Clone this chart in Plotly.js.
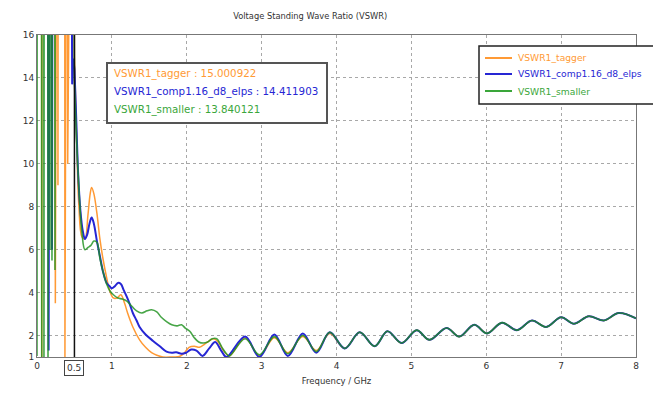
<!DOCTYPE html>
<html>
<head>
<meta charset="utf-8">
<script src="https://cdn.plot.ly/plotly-3.0.1.min.js"></script>
<style>html,body{margin:0;padding:0;background:#fff;}#chart{width:653px;height:401px;}</style>
</head>
<body>
<div id="chart"></div>
<script>
// ---- data ----
const freqTagger = [0,0.06,0.064,0.068,0.235,0.245,0.255,0.275,0.28,0.285,0.368,0.373,0.378,0.405,0.41,0.415,0.48,0.5,0.53,0.56,0.6,0.64,0.68,0.71,0.73,0.76,0.8,0.84,0.88,0.93,0.97,1.02,1.07,1.12,1.17,1.21,1.28,1.37,1.45,1.53,1.6,1.68,1.8,1.9,1.97,2.03,2.1,2.17,2.24,2.3,2.36,2.42,2.5,2.57,2.78,2.97,3.17,3.35,3.55,3.73,3.91,4.11,4.31,4.51,4.68,4.87,5.07,5.24,5.47,5.64,5.84,6.01,6.21,6.41,6.61,6.8,7.0,7.17,7.37,7.57,7.77,8.0];
const vswrTagger = [40,40,1.0,40,40,3.5,40,40,9,40,40,1.0,40,40,10,40,40,15.0,11,8.0,6.6,6.5,7.6,8.6,8.9,8.6,7.7,6.5,5.6,4.7,4.1,3.75,3.75,3.9,3.5,3.05,2.4,1.8,1.45,1.2,1.08,1.0,1.0,1.02,1.2,1.45,1.5,1.45,1.6,1.75,1.85,1.7,1.25,1.05,1.9,1.05,1.9,1.2,1.95,1.3,2.1,1.4,2.15,1.5,2.2,1.65,2.25,1.8,2.35,1.95,2.5,2.1,2.6,2.25,2.7,2.4,2.85,2.55,2.9,2.7,3.05,2.8];

const freqComp = [0,0.14,0.155,0.17,0.19,0.2,0.21,0.45,0.47,0.485,0.5,0.52,0.55,0.58,0.61,0.64,0.67,0.7,0.73,0.76,0.8,0.84,0.88,0.93,0.97,1.0,1.04,1.08,1.12,1.16,1.2,1.24,1.28,1.33,1.37,1.45,1.55,1.64,1.73,1.8,1.86,1.93,1.99,2.06,2.13,2.21,2.3,2.38,2.46,2.53,2.78,2.97,3.17,3.35,3.55,3.73,3.91,4.11,4.31,4.51,4.68,4.87,5.07,5.24,5.47,5.64,5.84,6.01,6.21,6.41,6.61,6.8,7.0,7.17,7.37,7.57,7.77,8.0];
const vswrComp = [30,30,1.3,30,30,6,30,30,13.7,14.9,14.41,12.5,9.5,7.8,6.9,6.5,6.7,7.2,7.5,7.2,6.4,5.7,5.0,4.45,4.3,4.2,4.3,4.45,4.4,4.1,3.8,3.45,3.05,2.7,2.4,2.05,1.75,1.5,1.25,1.2,1.22,1.15,1.2,1.35,1.3,1.05,1.4,1.7,1.3,1.0,1.95,1.0,2.05,1.05,2.1,1.2,2.15,1.4,2.15,1.5,2.2,1.65,2.25,1.8,2.35,1.95,2.5,2.1,2.6,2.25,2.7,2.4,2.85,2.55,2.9,2.7,3.05,2.8];

const freqSmaller = [0,0.004,0.058,0.063,0.068,0.088,0.093,0.098,0.142,0.147,0.152,0.168,0.173,0.178,0.195,0.2,0.205,0.235,0.24,0.245,0.47,0.5,0.55,0.6,0.64,0.68,0.72,0.76,0.8,0.84,0.88,0.93,0.97,1.02,1.08,1.14,1.2,1.27,1.33,1.4,1.47,1.53,1.6,1.66,1.73,1.8,1.87,1.93,1.98,2.04,2.1,2.16,2.22,2.28,2.34,2.4,2.47,2.53,2.57,2.78,2.97,3.17,3.35,3.55,3.73,3.91,4.11,4.31,4.51,4.68,4.87,5.07,5.24,5.47,5.64,5.84,6.01,6.21,6.41,6.61,6.8,7.0,7.17,7.37,7.57,7.77,8.0];
const vswrSmaller = [1.05,40,40,1.0,40,40,1.0,40,40,1.0,40,40,6,40,40,5.5,40,40,5.05,40,40,13.84,9.5,6.8,6.0,6.1,6.2,6.4,6.35,5.6,5.0,4.4,4.1,3.9,3.75,3.7,3.6,3.35,3.15,3.05,3.15,3.2,3.1,2.85,2.65,2.5,2.45,2.5,2.35,2.2,1.9,1.7,1.65,1.7,1.85,1.85,1.45,1.15,1.05,1.85,1.1,1.95,1.15,2.0,1.25,2.15,1.4,2.15,1.5,2.2,1.65,2.25,1.8,2.35,1.95,2.5,2.1,2.6,2.25,2.7,2.4,2.85,2.55,2.9,2.7,3.05,2.8];

const seriesNames = ['VSWR1_tagger','VSWR1_comp1.16_d8_elps','VSWR1_smaller'];
const markerFreq = [0.5];
const markerValues = ['15.000922','14.411903','13.840121'];
const xTicks = [0,1,2,3,4,5,6,7,8];
const yTicks = [1,2,4,6,8,10,12,14,16];

const colors = ['#ff9a35','#2626d4','rgba(30,145,30,0.82)'];
const textColors = ['#ff9a35','#2626d4','#3aa63a'];
const FONT = 'DejaVu Sans, sans-serif';

// resonance part (below the marker) drawn straight, the rest smoothed
function parts(x, y, i, w) {
  let k = x.findIndex(v => v >= markerFreq[0]);
  const base = {type: 'scatter', mode: 'lines', showlegend: false, hoverinfo: 'skip'};
  return [
    Object.assign({}, base, {x: x.slice(0, k + 1), y: y.slice(0, k + 1), line: {color: colors[i], width: w, shape: 'linear'}}),
    Object.assign({}, base, {x: x.slice(k), y: y.slice(k), line: {color: colors[i], width: w, shape: 'spline', smoothing: 1}})
  ];
}
const traces = [].concat(parts(freqTagger, vswrTagger, 0, 1.5), parts(freqComp, vswrComp, 1, 2), parts(freqSmaller, vswrSmaller, 2, 1.6));

// px -> paper helpers (plot area: x 37..636, y 35..357)
const px = v => (v - 37) / 599;
const py = v => (357 - v) / 322;

const annY = [73, 91, 109];
const annotations = markerValues.map((v, i) => ({
  xref: 'paper', yref: 'paper', x: px(112), y: py(annY[i]), xanchor: 'left', yanchor: 'middle',
  text: seriesNames[i] + ' : ' + v, showarrow: false,
  font: {family: FONT, size: 10.3, color: textColors[i]}
}));
annotations.push({
  xref: 'x', yref: 'paper', x: markerFreq[0], y: py(368), xanchor: 'center', yanchor: 'middle',
  text: String(markerFreq[0]), showarrow: false, bordercolor: '#444', borderwidth: 1, borderpad: 2,
  bgcolor: '#fff', font: {family: FONT, size: 9, color: '#333'}
});
// manual legend box (runs off the right edge like the reference)
const legY = [58, 74, 91];
const shapes = [
  {type: 'line', xref: 'x', yref: 'paper', x0: markerFreq[0], x1: markerFreq[0], y0: 0, y1: 1, line: {color: '#111', width: 1.5}, layer: 'above'},
  {type: 'rect', xref: 'paper', yref: 'paper', x0: px(107), x1: px(327), y0: py(123), y1: py(63), line: {color: '#555', width: 2}, fillcolor: '#fff', layer: 'above'},
  {type: 'rect', xref: 'paper', yref: 'paper', x0: px(479), x1: px(670), y0: py(104), y1: py(46), line: {color: '#222', width: 1.5}, fillcolor: '#fff', layer: 'above'}
];
seriesNames.forEach((n, i) => {
  shapes.push({type: 'line', xref: 'paper', yref: 'paper', x0: px(485), x1: px(512), y0: py(legY[i]), y1: py(legY[i]), line: {color: textColors[i], width: 2}, layer: 'above'});
  annotations.push({xref: 'paper', yref: 'paper', x: px(516), y: py(legY[i]), xanchor: 'left', yanchor: 'middle',
    text: n, showarrow: false, font: {family: FONT, size: 9.2, color: textColors[i]}});
});

const layout = {
  width: 653, height: 401,
  margin: {l: 37, r: 17, t: 35, b: 44},
  paper_bgcolor: '#fff', plot_bgcolor: '#fff',
  title: {text: 'Voltage Standing Wave Ratio (VSWR)', font: {family: FONT, size: 8.3, color: '#333'}, x: 0.475, xanchor: 'center', y: 0.96, yanchor: 'middle'},
  xaxis: {range: [0, 8], tickvals: xTicks, ticktext: xTicks.map(String), showgrid: true, gridcolor: '#a8a8a8', griddash: 'dot', gridwidth: 1,
    showline: true, linecolor: '#777', linewidth: 1, mirror: true, zeroline: false, ticks: '',
    tickfont: {family: FONT, size: 9, color: '#333'},
    title: {text: 'Frequency / GHz', font: {family: FONT, size: 8.5, color: '#333'}, standoff: 8}},
  yaxis: {range: [1, 16], tickvals: yTicks, ticktext: yTicks.map(String), showgrid: true, gridcolor: '#a8a8a8', griddash: 'dot', gridwidth: 1,
    showline: true, linecolor: '#777', linewidth: 1, mirror: true, zeroline: false, ticks: '',
    tickfont: {family: FONT, size: 9, color: '#333'}},
  showlegend: false,
  shapes: shapes,
  annotations: annotations
};

Plotly.newPlot('chart', traces, layout, {displayModeBar: false, staticPlot: true});
</script>
</body>
</html>
